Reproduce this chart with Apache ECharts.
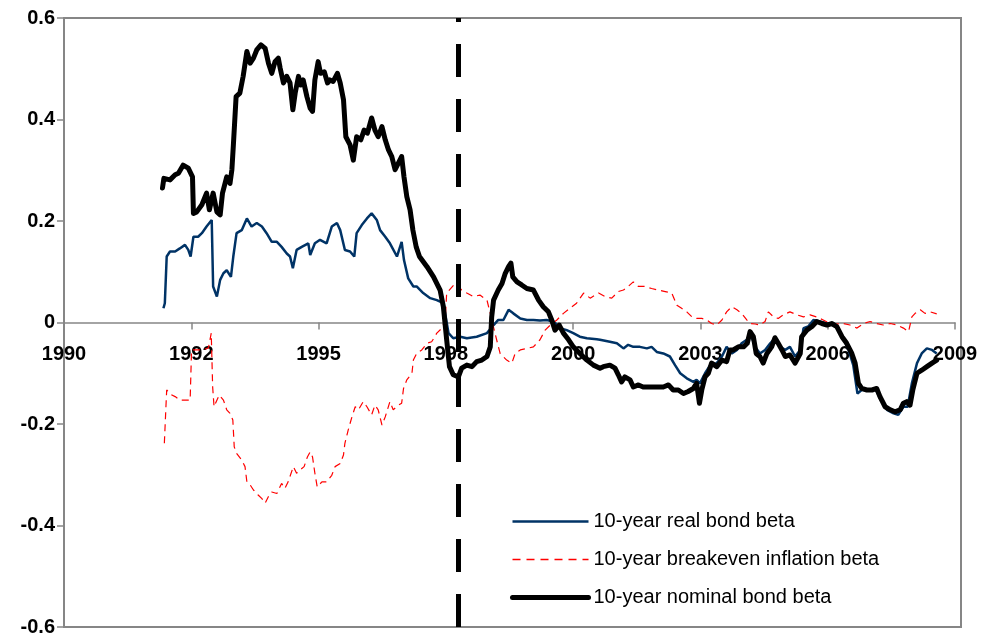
<!DOCTYPE html>
<html>
<head>
<meta charset="utf-8">
<script src="https://cdn.jsdelivr.net/npm/echarts@6/dist/echarts.min.js"></script>
<style>
  html, body { margin: 0; padding: 0; background: #fff; }
  #chart { width: 982px; height: 640px; }
</style>
</head>
<body>
<div id="chart"></div>
<script>
// [year, beta]
const realBondBeta = [
  [1992.12, 0.028], [1992.15, 0.038], [1992.19, 0.130], [1992.26, 0.140], [1992.37, 0.140],
  [1992.47, 0.146], [1992.58, 0.153], [1992.65, 0.143], [1992.70, 0.130], [1992.76, 0.169],
  [1992.86, 0.169], [1992.94, 0.176], [1993.04, 0.189], [1993.15, 0.202], [1993.18, 0.071],
  [1993.26, 0.051], [1993.33, 0.084], [1993.40, 0.097], [1993.47, 0.103], [1993.56, 0.090],
  [1993.61, 0.130], [1993.68, 0.176], [1993.79, 0.182], [1993.90, 0.205], [1994.00, 0.189],
  [1994.11, 0.196], [1994.22, 0.189], [1994.32, 0.176], [1994.43, 0.159], [1994.54, 0.159],
  [1994.64, 0.149], [1994.75, 0.136], [1994.82, 0.130], [1994.88, 0.107], [1994.96, 0.143],
  [1995.07, 0.149], [1995.21, 0.156], [1995.25, 0.133], [1995.35, 0.156], [1995.46, 0.163],
  [1995.60, 0.156], [1995.71, 0.189], [1995.82, 0.196], [1995.89, 0.182], [1995.99, 0.143],
  [1996.10, 0.140], [1996.19, 0.130], [1996.24, 0.176], [1996.35, 0.192], [1996.46, 0.205],
  [1996.56, 0.215], [1996.67, 0.202], [1996.74, 0.182], [1996.85, 0.169], [1996.95, 0.156],
  [1997.10, 0.130], [1997.20, 0.159], [1997.25, 0.123], [1997.34, 0.087], [1997.45, 0.071],
  [1997.52, 0.071], [1997.66, 0.058], [1997.81, 0.048], [1997.95, 0.044], [1998.09, 0.038],
  [1998.20, -0.021], [1998.30, -0.031], [1998.45, -0.028], [1998.59, -0.031], [1998.80, -0.028],
  [1999.02, -0.021], [1999.16, -0.005], [1999.26, 0.005], [1999.37, 0.005], [1999.48, 0.025],
  [1999.58, 0.018], [1999.73, 0.008], [1999.87, 0.005], [2000.01, 0.005], [2000.15, 0.004],
  [2000.29, 0.005], [2000.44, 0.002], [2000.58, -0.011], [2000.72, -0.015], [2000.86, -0.021],
  [2001.00, -0.028], [2001.15, -0.031], [2001.36, -0.033], [2001.43, -0.034], [2001.64, -0.038],
  [2001.79, -0.041], [2001.93, -0.051], [2002.03, -0.044], [2002.14, -0.048], [2002.28, -0.048],
  [2002.43, -0.051], [2002.53, -0.048], [2002.64, -0.058], [2002.78, -0.061], [2002.92, -0.067],
  [2003.03, -0.084], [2003.14, -0.100], [2003.28, -0.110], [2003.42, -0.117], [2003.49, -0.113],
  [2003.56, -0.120], [2003.67, -0.100], [2003.78, -0.084], [2003.92, -0.080], [2004.03, -0.067],
  [2004.13, -0.048], [2004.24, -0.061], [2004.35, -0.054], [2004.45, -0.041], [2004.56, -0.034],
  [2004.63, -0.021], [2004.74, -0.048], [2004.84, -0.061], [2004.95, -0.054], [2005.06, -0.041],
  [2005.16, -0.031], [2005.27, -0.048], [2005.38, -0.054], [2005.48, -0.048], [2005.59, -0.067],
  [2005.70, -0.054], [2005.77, -0.011], [2005.87, -0.008], [2005.98, 0.005], [2006.12, 0.002],
  [2006.27, -0.002], [2006.41, -0.002], [2006.51, -0.011], [2006.62, -0.031], [2006.73, -0.054],
  [2006.83, -0.084], [2006.92, -0.140], [2007.01, -0.133], [2007.15, -0.133], [2007.30, -0.130],
  [2007.40, -0.149], [2007.55, -0.172], [2007.69, -0.179], [2007.79, -0.182], [2007.90, -0.166],
  [2007.99, -0.166], [2008.08, -0.120], [2008.19, -0.080], [2008.29, -0.061], [2008.40, -0.051],
  [2008.51, -0.054], [2008.61, -0.061]
];

const breakevenBeta = [
  [1992.14, -0.238], [1992.18, -0.153], [1992.19, -0.133], [1992.30, -0.143], [1992.37, -0.146],
  [1992.47, -0.153], [1992.58, -0.153], [1992.69, -0.153], [1992.72, -0.054], [1992.83, -0.054],
  [1992.97, -0.054], [1993.08, -0.050], [1993.14, -0.021], [1993.17, -0.127], [1993.20, -0.166],
  [1993.26, -0.153], [1993.31, -0.143], [1993.40, -0.153], [1993.47, -0.172], [1993.54, -0.179],
  [1993.60, -0.192], [1993.63, -0.245], [1993.68, -0.258], [1993.79, -0.271], [1993.86, -0.284],
  [1993.90, -0.314], [1993.97, -0.320], [1994.04, -0.330], [1994.14, -0.340], [1994.22, -0.347],
  [1994.29, -0.356], [1994.36, -0.343], [1994.43, -0.334], [1994.54, -0.337], [1994.64, -0.317],
  [1994.71, -0.327], [1994.78, -0.314], [1994.89, -0.284], [1994.96, -0.297], [1995.03, -0.291],
  [1995.12, -0.284], [1995.19, -0.265], [1995.25, -0.255], [1995.30, -0.265], [1995.35, -0.297],
  [1995.40, -0.324], [1995.50, -0.314], [1995.60, -0.314], [1995.71, -0.301], [1995.78, -0.284],
  [1995.89, -0.278], [1995.96, -0.261], [1995.99, -0.238], [1996.06, -0.212], [1996.14, -0.186],
  [1996.21, -0.166], [1996.28, -0.172], [1996.38, -0.156], [1996.46, -0.166], [1996.56, -0.182],
  [1996.63, -0.163], [1996.70, -0.172], [1996.78, -0.202], [1996.85, -0.186], [1996.95, -0.156],
  [1997.02, -0.172], [1997.13, -0.163], [1997.20, -0.159], [1997.24, -0.130], [1997.31, -0.113],
  [1997.42, -0.100], [1997.45, -0.074], [1997.52, -0.061], [1997.63, -0.054], [1997.74, -0.041],
  [1997.84, -0.038], [1997.95, -0.021], [1998.06, -0.011], [1998.13, 0.005], [1998.16, 0.058],
  [1998.34, 0.077], [1998.48, 0.064], [1998.59, 0.058], [1998.73, 0.051], [1998.87, 0.054],
  [1999.02, 0.044], [1999.09, 0.018], [1999.19, -0.021], [1999.30, -0.061], [1999.44, -0.074],
  [1999.55, -0.080], [1999.62, -0.061], [1999.73, -0.054], [1999.87, -0.051], [2000.01, -0.048],
  [2000.15, -0.034], [2000.26, -0.015], [2000.37, -0.005], [2000.51, 0.005], [2000.65, 0.018],
  [2000.79, 0.028], [2000.93, 0.038], [2001.08, 0.058], [2001.22, 0.048], [2001.40, 0.058],
  [2001.54, 0.051], [2001.68, 0.048], [2001.82, 0.061], [2001.93, 0.064], [2002.03, 0.071],
  [2002.14, 0.080], [2002.25, 0.071], [2002.39, 0.071], [2002.53, 0.067], [2002.67, 0.064],
  [2002.82, 0.061], [2002.96, 0.058], [2003.07, 0.034], [2003.17, 0.028], [2003.28, 0.021],
  [2003.39, 0.011], [2003.49, 0.008], [2003.60, 0.008], [2003.71, 0.005], [2003.81, -0.002],
  [2003.92, -0.005], [2004.03, 0.005], [2004.13, 0.021], [2004.24, 0.031], [2004.35, 0.025],
  [2004.45, 0.018], [2004.56, 0.005], [2004.63, -0.002], [2004.74, -0.003], [2004.84, -0.005],
  [2004.95, 0.002], [2005.02, 0.021], [2005.13, 0.011], [2005.23, 0.008], [2005.34, 0.015],
  [2005.48, 0.021], [2005.63, 0.015], [2005.77, 0.011], [2005.91, 0.015], [2006.05, 0.011],
  [2006.19, 0.005], [2006.34, -0.002], [2006.48, -0.003], [2006.62, -0.002], [2006.76, -0.005],
  [2006.91, -0.011], [2007.05, -0.002], [2007.19, 0.002], [2007.33, -0.002], [2007.47, -0.005],
  [2007.62, -0.002], [2007.76, -0.005], [2007.90, -0.011], [2008.01, -0.018], [2008.08, 0.011],
  [2008.15, 0.018], [2008.26, 0.025], [2008.36, 0.018], [2008.47, 0.021], [2008.61, 0.017]
];

const nominalBondBeta = [
  [1992.10, 0.265], [1992.13, 0.284], [1992.26, 0.281], [1992.37, 0.291], [1992.44, 0.294],
  [1992.54, 0.310], [1992.65, 0.304], [1992.74, 0.287], [1992.76, 0.215], [1992.83, 0.218],
  [1992.94, 0.232], [1993.04, 0.255], [1993.10, 0.222], [1993.18, 0.255], [1993.26, 0.218],
  [1993.33, 0.212], [1993.38, 0.255], [1993.47, 0.287], [1993.54, 0.274], [1993.58, 0.301],
  [1993.61, 0.347], [1993.67, 0.445], [1993.75, 0.452], [1993.82, 0.485], [1993.90, 0.534],
  [1993.97, 0.511], [1994.04, 0.521], [1994.11, 0.537], [1994.20, 0.547], [1994.29, 0.540],
  [1994.36, 0.511], [1994.43, 0.491], [1994.50, 0.514], [1994.57, 0.521], [1994.61, 0.501],
  [1994.68, 0.472], [1994.75, 0.485], [1994.82, 0.472], [1994.88, 0.419], [1994.93, 0.452],
  [1995.00, 0.485], [1995.05, 0.468], [1995.10, 0.478], [1995.18, 0.445], [1995.25, 0.422],
  [1995.30, 0.416], [1995.35, 0.478], [1995.42, 0.514], [1995.47, 0.491], [1995.55, 0.494],
  [1995.62, 0.472], [1995.67, 0.478], [1995.74, 0.475], [1995.83, 0.491], [1995.89, 0.472],
  [1995.96, 0.439], [1996.01, 0.366], [1996.10, 0.350], [1996.17, 0.320], [1996.24, 0.366],
  [1996.33, 0.360], [1996.40, 0.379], [1996.47, 0.373], [1996.56, 0.403], [1996.63, 0.379],
  [1996.70, 0.366], [1996.78, 0.386], [1996.85, 0.360], [1996.92, 0.340], [1996.99, 0.327],
  [1997.06, 0.301], [1997.13, 0.314], [1997.20, 0.327], [1997.25, 0.287], [1997.31, 0.248],
  [1997.38, 0.222], [1997.44, 0.182], [1997.51, 0.149], [1997.58, 0.130], [1997.74, 0.110],
  [1997.88, 0.090], [1998.02, 0.064], [1998.09, 0.031], [1998.16, -0.034], [1998.22, -0.087],
  [1998.30, -0.103], [1998.41, -0.107], [1998.48, -0.090], [1998.59, -0.084], [1998.70, -0.087],
  [1998.80, -0.077], [1998.91, -0.074], [1999.02, -0.067], [1999.09, -0.048], [1999.12, 0.011],
  [1999.16, 0.044], [1999.26, 0.064], [1999.34, 0.077], [1999.41, 0.097], [1999.48, 0.110],
  [1999.53, 0.117], [1999.57, 0.090], [1999.66, 0.080], [1999.76, 0.074], [1999.87, 0.067],
  [2000.01, 0.064], [2000.12, 0.044], [2000.22, 0.031], [2000.33, 0.021], [2000.40, 0.005],
  [2000.47, -0.015], [2000.56, -0.005], [2000.65, -0.021], [2000.76, -0.034], [2000.86, -0.048],
  [2001.00, -0.061], [2001.15, -0.074], [2001.29, -0.084], [2001.43, -0.090], [2001.50, -0.087],
  [2001.64, -0.084], [2001.75, -0.090], [2001.82, -0.103], [2001.89, -0.117], [2001.96, -0.107],
  [2002.07, -0.113], [2002.14, -0.127], [2002.25, -0.123], [2002.35, -0.127], [2002.50, -0.127],
  [2002.64, -0.127], [2002.78, -0.127], [2002.89, -0.123], [2002.99, -0.133], [2003.10, -0.133],
  [2003.21, -0.140], [2003.31, -0.136], [2003.42, -0.130], [2003.49, -0.120], [2003.55, -0.159],
  [2003.60, -0.133], [2003.67, -0.107], [2003.74, -0.100], [2003.81, -0.080], [2003.92, -0.087],
  [2004.03, -0.074], [2004.13, -0.077], [2004.20, -0.054], [2004.27, -0.054], [2004.38, -0.048],
  [2004.49, -0.048], [2004.57, -0.041], [2004.63, -0.018], [2004.70, -0.028], [2004.76, -0.061],
  [2004.84, -0.067], [2004.91, -0.080], [2004.99, -0.061], [2005.09, -0.048], [2005.16, -0.030],
  [2005.23, -0.041], [2005.31, -0.054], [2005.38, -0.067], [2005.48, -0.064], [2005.59, -0.080],
  [2005.70, -0.061], [2005.73, -0.028], [2005.84, -0.015], [2005.95, -0.008], [2006.05, 0.002],
  [2006.16, -0.002], [2006.27, -0.005], [2006.37, -0.002], [2006.48, -0.008], [2006.59, -0.028],
  [2006.69, -0.041], [2006.80, -0.061], [2006.87, -0.080], [2006.94, -0.120], [2007.01, -0.130],
  [2007.12, -0.133], [2007.23, -0.133], [2007.33, -0.130], [2007.40, -0.146], [2007.51, -0.166],
  [2007.62, -0.172], [2007.72, -0.176], [2007.83, -0.172], [2007.90, -0.159], [2007.97, -0.156],
  [2008.04, -0.163], [2008.10, -0.133], [2008.19, -0.100], [2008.29, -0.094], [2008.40, -0.087],
  [2008.51, -0.080], [2008.61, -0.074]
];

const seriesNames = ['10-year real bond beta', '10-year breakeven inflation beta', '10-year nominal bond beta'];
const breakYear = 1998.40;
const xMin = 1990, xMax = 2009;
const yMin = -0.6, yMax = 0.6, yStep = 0.2;

const gridTop = 18, gridBottom = 13;
const gridHeight = 640 - gridTop - gridBottom;
// x axis sits on the zero line, like the original spreadsheet chart
const zeroOffset = -gridHeight * (0 - yMin) / (yMax - yMin);

const realStyle = { color: '#003366', width: 2.5 };
const breakevenStyle = { color: '#ff0000', width: 1.2, type: [7, 5] };
const nominalStyle = { color: '#000', width: 5, join: 'round', cap: 'round' };

const chart = echarts.init(document.getElementById('chart'));
const labelFont = { fontFamily: '"Liberation Sans", Arial, sans-serif', fontWeight: 'bold', fontSize: 20, color: '#000' };

const option = {
  animation: false,
  grid: { left: 64, right: 27, top: gridTop, bottom: gridBottom, outerBoundsMode: 'none' },
  legend: {
    orient: 'vertical',
    left: 510,
    top: 510,
    padding: 0,
    itemWidth: 76,
    itemHeight: 14,
    itemGap: 15,
    itemStyle: { opacity: 0 },
    data: [
      { name: seriesNames[0], lineStyle: { color: '#003366', width: 2.5, opacity: 1 } },
      { name: seriesNames[1], lineStyle: { color: '#ff0000', width: 1.5, type: [8, 6], opacity: 1 } },
      { name: seriesNames[2], lineStyle: { color: '#000000', width: 5, cap: 'round', opacity: 1 } }
    ],
    textStyle: { fontFamily: '"Liberation Sans", Arial, sans-serif', fontSize: 20, color: '#000', lineHeight: 23 }
  },
  xAxis: {
    type: 'value',
    min: xMin,
    max: xMax,
    interval: (xMax - xMin) / 7,
    position: 'bottom',
    offset: zeroOffset,
    splitLine: { show: false },
    axisLine: { onZero: false, lineStyle: { color: '#868686', width: 1.5 } },
    axisTick: { show: true, length: 7, lineStyle: { color: '#868686', width: 1.5 } },
    axisLabel: Object.assign({ margin: 22, formatter: v => String(Math.floor(v + 1e-6)) }, labelFont)
  },
  yAxis: {
    type: 'value',
    min: yMin,
    max: yMax,
    interval: yStep,
    splitLine: { show: false },
    axisLine: { show: true, lineStyle: { color: '#868686', width: 2 } },
    axisTick: { show: true, length: 7, lineStyle: { color: '#868686', width: 1.5 } },
    axisLabel: Object.assign({ margin: 9, formatter: v => String(Math.round(v * 10) / 10) }, labelFont)
  },
  graphic: [{
    type: 'rect',
    shape: { x: 64, y: gridTop, width: 897, height: gridHeight },
    style: { fill: 'none', stroke: '#868686', lineWidth: 2 },
    silent: true,
    z: -1
  }],
  series: [
    {
      name: seriesNames[0],
      type: 'line',
      data: realBondBeta,
      symbol: 'none',
      lineStyle: realStyle,
      itemStyle: { color: realStyle.color },
      z: 3
    },
    {
      name: seriesNames[1],
      type: 'line',
      data: breakevenBeta,
      symbol: 'none',
      lineStyle: breakevenStyle,
      itemStyle: { color: breakevenStyle.color },
      z: 4
    },
    {
      name: seriesNames[2],
      type: 'line',
      data: nominalBondBeta,
      symbol: 'none',
      lineStyle: nominalStyle,
      itemStyle: { color: nominalStyle.color },
      z: 5,
      markLine: {
        silent: true,
        symbol: 'none',
        label: { show: false },
        lineStyle: { color: '#000', width: 5, type: [33, 22] },
        data: [{ xAxis: breakYear }]
      }
    }
  ]
};
chart.setOption(option);
</script>
</body>
</html>
